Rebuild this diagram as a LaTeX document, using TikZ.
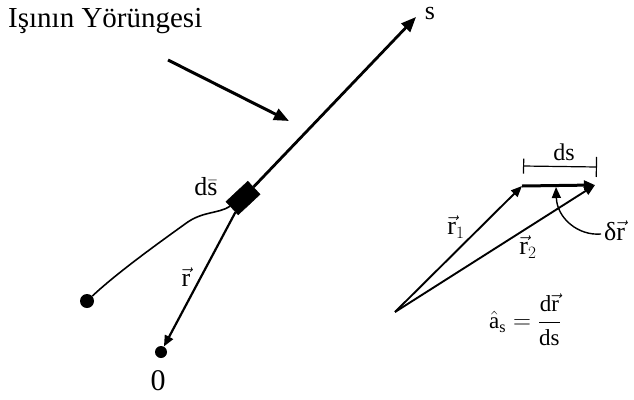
\documentclass[tikz,border=0pt]{standalone}
\usepackage{fontspec}
\usepackage{amsmath}
\setmainfont{Liberation Serif}
\usetikzlibrary{arrows.meta}
\begin{document}
\begin{tikzpicture}[x=1pt,y=-1pt,
  lbl/.style={inner sep=0pt, font=\fontsize{26}{28}\selectfont},
  bigtip/.style={-{Triangle[length=15pt,width=12pt]}},
  smalltip/.style={-{Triangle[length=11pt,width=9pt]}},
  dotnode/.style={circle, fill=black, inner sep=0pt, minimum size=14pt},
  dsbox/.style={rectangle, fill=black, draw=black, rotate=-47, minimum width=18pt, minimum height=30pt, inner sep=0pt},
  wig/.style={line width=1.6pt, line join=round},
]
\useasboundingbox (0,0) rectangle (634,399);

% title and pointer
\node[lbl, anchor=west, font=\fontsize{29}{32}\selectfont] (title) at (8,21) {Işının Yörüngesi};
\coordinate (pstart) at (168,60);
\coordinate (pend) at (289,121);
\draw[line width=3pt, bigtip] (pstart) -- (pend);

% ray trajectory
\node[dsbox] (ds) at (243,198) {};
\coordinate (stip) at (416,17);
\draw[line width=2.8pt, bigtip] (ds) -- (stip);
\node[lbl] (slab) at (430,13) {s};
\node[lbl] (dslab) at (206,187) {d$\bar{\mathrm{s}}$};

% points
\node[dotnode] (p) at (87,301) {};
\node[dotnode, minimum size=12pt] (o) at (161,352) {};
\draw[wig] (ds) .. controls (218,214) and (202,211) .. (185,224)
  .. controls (160,242) and (118,272) .. (p);
\draw[line width=2.2pt, smalltip] (ds) -- (o);
\node[lbl] (rlab) at (186,277) {$\vec{\mathrm{r}}$};
\node[lbl, font=\fontsize{30}{32}\selectfont] (zero) at (158,381) {0};

% right diagram
\coordinate (O2) at (395,312);
\coordinate (r1) at (522,186);
\coordinate (r2) at (595,185);
\draw[line width=1.9pt, smalltip] (O2) -- (r1);
\draw[line width=1.9pt, smalltip] (O2) -- (r2);
\draw[line width=3pt, smalltip] (r1) -- (r2);
\coordinate (bl) at (523,166);
\coordinate (br) at (597,167);
\draw[line width=1.2pt, {Bar[width=15pt]}-{Bar[width=20pt]}] (bl) -- (br);
\node[lbl, font=\fontsize{24}{26}\selectfont] (dsl2) at (564,152) {ds};
\coordinate (dstart) at (601,234);
\coordinate (dend) at (556,187);
\draw[line width=1.4pt, smalltip] (dstart) .. controls (578,236) and (557,218) .. (dend);
\node[lbl, anchor=west] (drlab) at (604,231) {δ$\vec{\mathrm{r}}$};
\node[lbl] (r1lab) at (456,227) {$\vec{\mathrm{r}}_1$};
\node[lbl] (r2lab) at (528,247) {$\vec{\mathrm{r}}_2$};
\node[lbl, font=\fontsize{23}{25}\selectfont] (formula) at (525,320) {$\hat{\mathrm{a}}_{\mathrm{s}} = \dfrac{\mathrm{d}\vec{\mathrm{r}}}{\mathrm{ds}}$};
\end{tikzpicture}
\end{document}
